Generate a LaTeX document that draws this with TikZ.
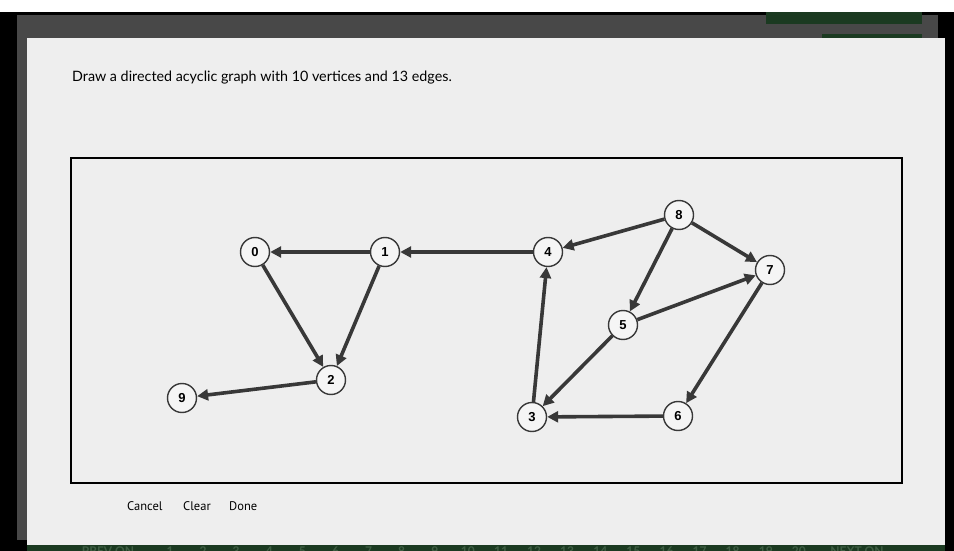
\documentclass[tikz,border=0pt]{standalone}
\usepackage{fontspec}
\setmainfont{Lato}
\newfontfamily\vertexfont{Liberation Sans}
\newfontfamily\buttonfont{PT Sans}
\usetikzlibrary{arrows.meta}
\definecolor{panelgrey}{HTML}{EEEEEE}
\definecolor{headergrey}{HTML}{484848}
\definecolor{bargreen}{HTML}{1B3A21}
\definecolor{pagergreen}{HTML}{3E5E43}
\definecolor{edgegrey}{HTML}{383838}

\begin{document}
\begin{tikzpicture}[x=1pt,y=-1pt,>={Triangle[length=11pt,width=11pt]},
  vertex/.style={circle,draw=edgegrey,line width=1.4pt,fill=white!96!black,minimum size=29pt,inner sep=0pt,font=\vertexfont\bfseries\fontsize{13}{13}\selectfont},
  edge/.style={->,line width=3.6pt,draw=edgegrey},
  button/.style={anchor=base west,font=\buttonfont\fontsize{12.5}{14}\selectfont}]
% window behind the dialog
\fill[white] (0,0) rectangle (954,551);
\fill[black] (0,12) rectangle (954,551);
\fill[headergrey] (17,15) rectangle (938,540);
\fill[bargreen] (766,12) rectangle (922,24);
\fill[bargreen] (822,34) rectangle (922,40);
\fill[bargreen] (27,540) rectangle (945,551);
\begin{scope}
\clip (27,545) rectangle (945,551);
\node[anchor=base,font=\bfseries\fontsize{12}{14}\selectfont,text=pagergreen] (prev) at (108,555) {PREV ON};
\foreach \i in {1,...,20}
  \node[anchor=base,font=\bfseries\fontsize{12}{14}\selectfont,text=pagergreen] (page\i) at ({170+33.1*(\i-1)},555) {\i};
\node[anchor=base,font=\bfseries\fontsize{12}{14}\selectfont,text=pagergreen] (next) at (857,555) {NEXT ON};
\end{scope}
% dialog
\fill[panelgrey] (27,38) rectangle (945,545);
\node[anchor=base west,inner sep=0pt,font=\fontsize{14.3}{17}\selectfont] (title) at (72,81.5) {Draw a directed acyclic graph with 10 vertices and 13 edges.};
\draw[line width=1.5pt,fill=panelgrey] (71,158) rectangle (902,483);
\node[button,inner sep=0pt] (cancel) at (127,510) {Cancel};
\node[button,inner sep=0pt] (clear) at (183,510) {Clear};
\node[button,inner sep=0pt] (done) at (229,510) {Done};
% vertices
\node[vertex] (0) at (255,252) {0};
\node[vertex] (1) at (385,252) {1};
\node[vertex] (2) at (331,380) {2};
\node[vertex] (9) at (182,398) {9};
\node[vertex] (4) at (548,252) {4};
\node[vertex] (8) at (679,215) {8};
\node[vertex] (7) at (770,270) {7};
\node[vertex] (5) at (623,325) {5};
\node[vertex] (3) at (532,417) {3};
\node[vertex] (6) at (678,416) {6};
% edges
\draw[edge] (1) -- (0);
\draw[edge] (0) -- (2);
\draw[edge] (1) -- (2);
\draw[edge] (2) -- (9);
\draw[edge] (4) -- (1);
\draw[edge] (8) -- (4);
\draw[edge] (8) -- (5);
\draw[edge] (8) -- (7);
\draw[edge] (5) -- (7);
\draw[edge] (5) -- (3);
\draw[edge] (7) -- (6);
\draw[edge] (6) -- (3);
\draw[edge] (3) -- (4);
\end{tikzpicture}
\end{document}
